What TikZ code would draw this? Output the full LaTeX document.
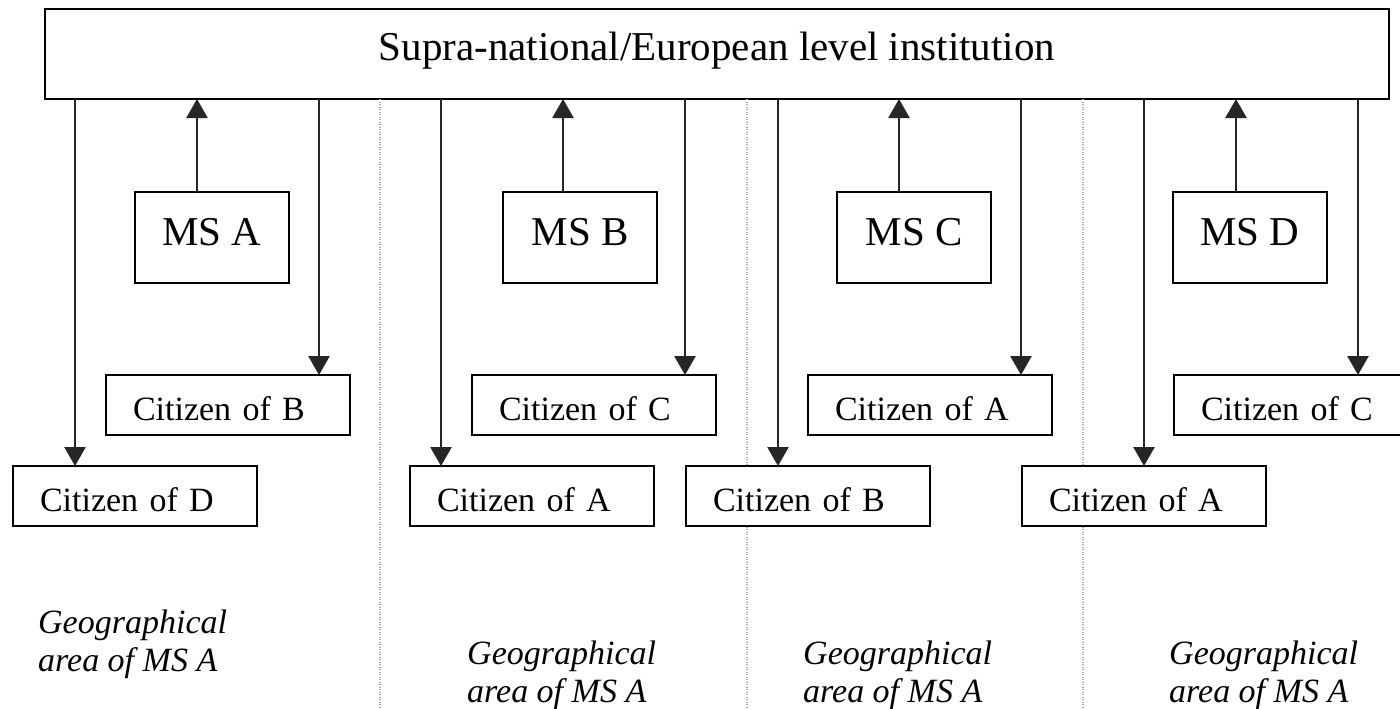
\documentclass[tikz,border=0pt]{standalone}
\usepackage{fontspec}
\setmainfont{Liberation Serif}
\usetikzlibrary{arrows.meta,calc}
\begin{document}
\begin{tikzpicture}[x=1pt,y=-1pt,
  box/.style={draw=black,line width=2.4pt,fill=white,inner sep=0pt,outer sep=0pt},
  citbox/.style={box,anchor=north west,text width=190pt,inner xsep=27pt,minimum height=60pt,align=left,
    font=\fontsize{34}{40}\selectfont,text height=30pt,text depth=0pt},
  msbox/.style={box,anchor=north west,minimum width=154pt,minimum height=91pt,
    font=\fontsize{41}{48}\selectfont,text height=30pt,text depth=15pt},
  arr/.style={draw=black!85,line width=2.6pt,-{Triangle[width=21pt,length=19pt]}},
  sepline/.style={draw=gray!70,line width=1.3pt,dash pattern=on 1pt off 1.5pt},
  geo/.style={anchor=base west,align=left,inner sep=0pt,font=\fontsize{34}{38}\selectfont\itshape}]
\useasboundingbox (0,0) rectangle (1400,709);
\clip (0,0) rectangle (1400,709);

\node[box,anchor=north west,minimum width=1344pt,minimum height=90pt,
  font=\fontsize{41}{48}\selectfont,text height=30pt,text depth=18pt] (top) at (45,9)
  {Supra-national/European level institution};

% separators
\coordinate (s1) at (380,709);
\coordinate (s2) at (747,709);
\coordinate (s3) at (1083,709);
\draw[sepline] (top.south -| s1) -- (s1);
\draw[sepline] (top.south -| s2) -- (s2);
\draw[sepline] (top.south -| s3) -- (s3);

% panel 1
\node[msbox] (msa) at (135,192) {MS A};
\node[citbox] (p1b) at (106,375) {Citizen of B};
\node[citbox] (p1d) at (13,466) {Citizen of D};
\node[geo] (g1) at (38,671) {Geographical\\area of MS A};

% panel 2
\node[msbox] (msb) at (503,192) {MS B};
\node[citbox] (p2c) at (472,375) {Citizen of C};
\node[citbox] (p2a) at (410,466) {Citizen of A};
\node[geo] (g2) at (467,702) {Geographical\\area of MS A};

% panel 3
\node[msbox] (msc) at (837,192) {MS C};
\node[citbox] (p3a) at (808,375) {Citizen of A};
\node[citbox] (p3b) at (686,466) {Citizen of B};
\node[geo] (g3) at (803,702) {Geographical\\area of MS A};

% panel 4
\node[msbox] (msd) at (1173,192) {MS D};
\node[citbox] (p4c) at (1174,375) {Citizen of C};
\node[citbox] (p4a) at (1022,466) {Citizen of A};
\node[geo] (g4) at (1169,702) {Geographical\\area of MS A};

% arrow end points
\path ([xshift=62pt]p1d.north west) coordinate (d1)
      ([xshift=62pt]msa.north west) coordinate (u1)
      ([xshift=213pt]p1b.north west) coordinate (e1)
      ([xshift=31pt]p2a.north west) coordinate (d2)
      ([xshift=60pt]msb.north west) coordinate (u2)
      ([xshift=213pt]p2c.north west) coordinate (e2)
      ([xshift=92pt]p3b.north west) coordinate (d3)
      ([xshift=62pt]msc.north west) coordinate (u3)
      ([xshift=213pt]p3a.north west) coordinate (e3)
      ([xshift=122pt]p4a.north west) coordinate (d4)
      ([xshift=63pt]msd.north west) coordinate (u4)
      ([xshift=184pt]p4c.north west) coordinate (e4);

\foreach \i in {1,2,3,4}{
  \draw[arr] (top.south -| d\i) -- (d\i);
  \draw[arr] (u\i) -- (u\i |- top.south);
  \draw[arr] (top.south -| e\i) -- (e\i);
}
\end{tikzpicture}
\end{document}
